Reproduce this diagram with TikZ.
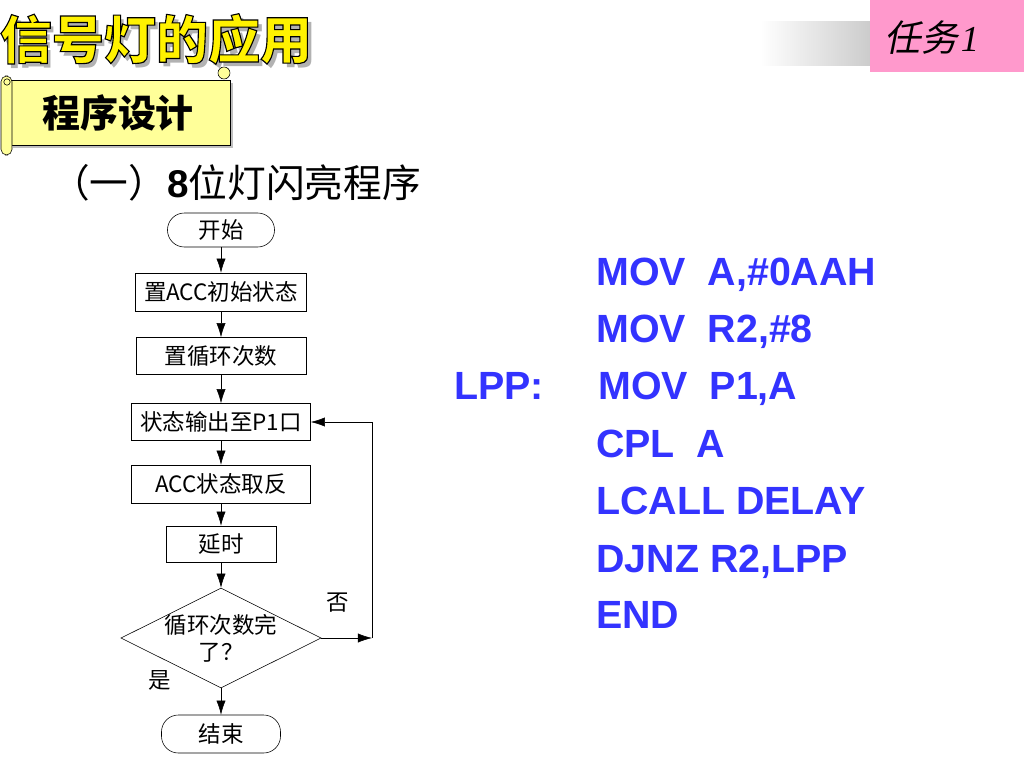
\documentclass[tikz,border=0pt]{standalone}
\usepackage{fontspec}
\usepackage{tikz}
\usetikzlibrary{shapes.geometric,arrows.meta}

\newfontfamily\cjk{Noto Sans CJK SC}
\newfontfamily\cjkslant[FakeSlant=0.2]{Noto Sans CJK SC}
\newfontfamily\codefont{Liberation Sans}
\newfontfamily\taskfont{Liberation Serif}
\newcommand{\flowfont}{\cjk\fontsize{16}{19}\selectfont}
\newcommand{\outlined}[1]{\special{pdf:literal direct 0 0 0 RG 2 Tr 0.8 w}#1\special{pdf:literal direct 0 Tr}}

\definecolor{codeblue}{RGB}{51,51,255}
\definecolor{taskpink}{RGB}{255,153,204}
\definecolor{scrollyellow}{RGB}{255,255,153}

\begin{document}
\begin{tikzpicture}[x=0.025cm,y=-0.025cm]%[width=\textwidth]

		\useasboundingbox (0,0) rectangle (1024,768);

		% header
		\shade[left color=white, right color=gray!40] (760,22) rectangle (870,66);
		\fill[taskpink] (870,0) rectangle (1024,72);
		\node[font=\cjkslant\fontsize{26}{30}\selectfont] (K) at (932,38) {任务\kern2pt{\taskfont\itshape 1}};

		\node[font=\cjk\bfseries\fontsize{37}{40}\selectfont, text=gray!60] at (160,44) {信号灯的应用};
		\node[font=\cjk\bfseries\fontsize{37}{40}\selectfont, text=yellow] (T) at (156,39) {\outlined{信号灯的应用}};

		\fill[gray!50] (13,83) rectangle (233,148);
		\draw[fill=scrollyellow] (10,80) rectangle (230,145);
		\draw[fill=scrollyellow] (224,73) circle (0.15cm);
		\draw[fill=scrollyellow, rounded corners=4pt] (1,76) rectangle (12,155);
		\draw (7,82) circle (0.08cm);
		\node[font=\cjk\bfseries\fontsize{27}{30}\selectfont] (P) at (118,113) {程序设计};

		\node[font=\cjk\fontsize{27.5}{30}\selectfont] (H) at (236,183) {（一）{\codefont\bfseries 8}位灯闪亮程序};

		% flowchart
		\tikzstyle{terminal}=[draw, rectangle, rounded corners=12pt, font=\flowfont, inner sep=0pt]
		\tikzstyle{process}=[draw, rectangle, font=\flowfont, inner sep=0pt]
		\tikzstyle{decision}=[draw, diamond, inner sep=0pt]

		\node[terminal, minimum width=2.675cm, minimum height=0.85cm] (S) at (221,230) {开始};
		\node[process, minimum width=4.275cm, minimum height=0.95cm] (B1) at (221,292) {置ACC初始状态};
		\node[process, minimum width=4.25cm, minimum height=0.925cm] (B2) at (221,356) {置循环次数};
		\node[process, minimum width=4.475cm, minimum height=0.925cm] (B3) at (221,422) {状态输出至P1口};
		\node[process, minimum width=4.475cm, minimum height=0.95cm] (B4) at (221,484) {ACC状态取反};
		\node[process, minimum width=2.75cm, minimum height=0.9cm] (B5) at (221,544) {延时};
		\node[decision, minimum width=5cm, minimum height=2.5cm,
			label={[font=\flowfont, align=center]center:循环次数完\\了？}] (Q) at (221,638) {};
		\node[terminal, minimum width=2.975cm, minimum height=0.95cm] (E) at (221,734) {结束};

		\node[font=\flowfont] (N) at (338,603) {否};
		\node[font=\flowfont] (Y) at (160,680) {是};

		\coordinate (L1) at (372,638);
		\coordinate (L2) at (372,422);

		\tikzstyle{linkFlow}=[->,thin,>={Latex[length=10pt,width=6.5pt]}]

		\draw[linkFlow] (S)--(B1);
		\draw[linkFlow] (B1)--(B2);
		\draw[linkFlow] (B2)--(B3);
		\draw[linkFlow] (B3)--(B4);
		\draw[linkFlow] (B4)--(B5);
		\draw[linkFlow] (B5)--(Q);
		\draw[linkFlow] (Q)--(E);

		\draw[linkFlow] (Q.east)--(L1);
		\draw (L1)--(L2);
		\draw[linkFlow] (L2)--(B3.east);

		% program
		\tikzstyle{codeline}=[anchor=base west, inner sep=0pt, text=codeblue, font=\codefont\bfseries\fontsize{28}{30}\selectfont]

		\node[codeline] (C1) at (596,285) {MOV\ \ A,\#0AAH};
		\node[codeline] (C2) at (596,342) {MOV\ \ R2,\#8};
		\node[codeline] (LP) at (454,399) {LPP:};
		\node[codeline] (C3) at (598,399) {MOV\ \ P1,A};
		\node[codeline] (C4) at (596,457) {CPL\ \ A};
		\node[codeline] (C5) at (596,514) {LCALL DELAY};
		\node[codeline] (C6) at (596,572) {DJNZ R2,LPP};
		\node[codeline] (C7) at (596,628) {END};

	\end{tikzpicture}
\end{document}
